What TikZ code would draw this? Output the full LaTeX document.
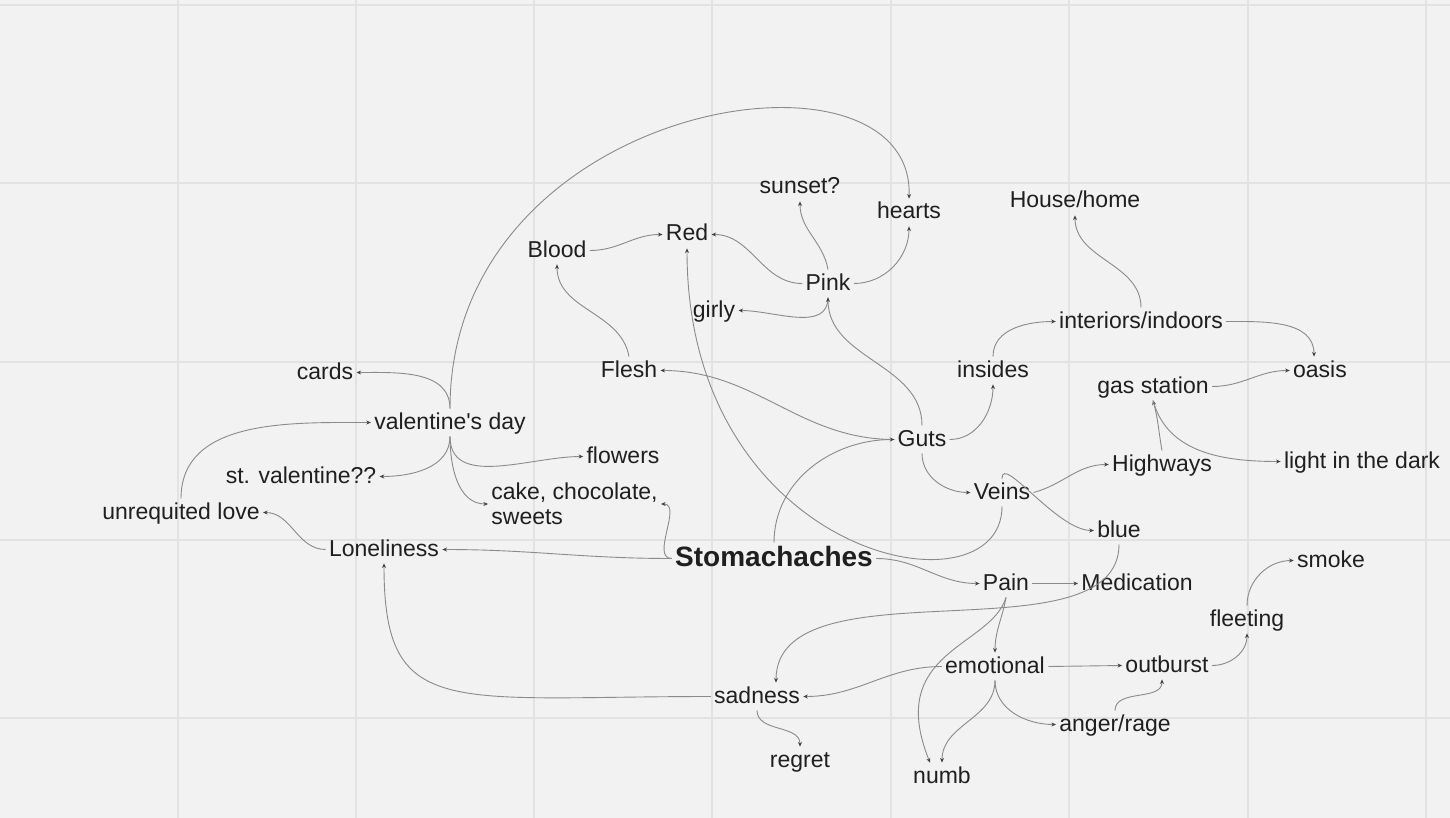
\documentclass[tikz,border=0pt]{standalone}
\usepackage{fontspec}
\setmainfont{Liberation Sans}
\usetikzlibrary{arrows.meta}

\definecolor{paper}{HTML}{F2F2F2}
\definecolor{gridline}{HTML}{E2E2E2}
\definecolor{ink}{HTML}{1F1F1F}
\definecolor{wire}{HTML}{8A8A8A}

\tikzset{
  word/.style={font=\fontsize{11.5}{12.5}\selectfont, text=ink, inner sep=1.5pt},
  term/.style={word, anchor=base, text height=8.5pt, text depth=2pt},
  link/.style={draw=wire, line width=0.45pt, -{Stealth[length=2.3pt,width=2pt,color=ink!85]}},
}

\begin{document}
\begin{tikzpicture}[x=0.5pt,y=0.5pt]
        % canvas and grid
        \fill[paper] (0,0) rectangle (1450,-818);
        \useasboundingbox (0,0) rectangle (1450,-818);
        \foreach \gx in {178,356,534,712,891,1069,1248,1426}
            \draw[gridline, line width=1pt] (\gx,0) -- (\gx,-818);
        \foreach \gy in {5,183,362,540,718}
            \draw[gridline, line width=1pt] (0,-\gy) -- (1450,-\gy);

        \node[term] (sunset) at (800,-194) {sunset?};
        \node[term] (hearts) at (909,-219) {hearts};
        \node[term] (house) at (1075,-208) {House/home};
        \node[term] (blood) at (557,-257) {Blood};
        \node[term] (red) at (687,-241) {Red};
        \node[term] (pink) at (828,-290) {Pink};
        \node[term] (girly) at (714,-317) {girly};
        \node[term] (interiors) at (1141,-328) {interiors/indoors};

        \node[term] (cards) at (325,-379) {cards};
        \node[term] (flesh) at (629,-377) {Flesh};
        \node[term] (insides) at (993,-377) {insides};
        \node[term] (gas) at (1153,-393) {gas station};
        \node[term] (oasis) at (1320,-377) {oasis};
        \node[term] (valday) at (450,-429) {valentine\textquotesingle s day};
        \node[term] (guts) at (922,-446) {Guts};
        \node[term] (flowers) at (623,-463) {flowers};
        \node[term] (stval) at (301,-483) {st. valentine??};
        \node[term] (highways) at (1162,-471) {Highways};
        \node[term] (light) at (1362,-468) {light in the dark};
        \node[word, align=left, anchor=west] (cake) at (488,-504) {cake, chocolate,\\sweets};
        \node[term] (veins) at (1002,-499) {Veins};
        \node[term] (unreq) at (181,-519) {unrequited love};
        \node[term] (blue) at (1119,-537) {blue};

        \node[term] (lonely) at (384,-556) {Loneliness};
        \node[term, font=\fontsize{14}{16}\selectfont\bfseries, text height=10pt, text depth=2.5pt] (stomach) at (774,-566) {Stomachaches};
        \node[term] (smoke) at (1331,-567) {smoke};
        \node[term] (pain) at (1006,-590) {Pain};
        \node[term] (meds) at (1137,-590) {Medication};
        \node[term] (fleeting) at (1247,-626) {fleeting};
        \node[term] (emotional) at (995,-673) {emotional};
        \node[term] (outburst) at (1167,-672) {outburst};
        \node[term] (sadness) at (757,-703) {sadness};
        \node[term] (anger) at (1115,-731) {anger/rage};
        \node[term] (regret) at (800,-767) {regret};
        \node[term] (numb) at (942,-783) {numb};

        % colours
        \draw[link] (blood.east) to[out=0,in=180] (red.west);
        \draw[link] (pink.west) to[out=180,in=0] (red.east);
        \draw[link] (pink.north) to[out=100,in=-90] (sunset.south);
        \draw[link] (pink.east) to[out=0,in=-90] (hearts.south);
        \draw[link] (pink.south) to[out=-90,in=0] (girly.east);
        \draw[link] (guts.north) to[out=90,in=-90] (pink.south);
        \draw[link] (flesh.north) to[out=100,in=-90] (blood.south);
        \draw[link] (guts.west) to[out=180,in=0] (flesh.east);
        \draw[link] (veins.south) .. controls +(0,-113) and +(0,-312) .. (red.south);

        % valentine's day
        \draw[link] (valday.north) .. controls +(0,310) and +(6,170) .. (hearts.north);
        \draw[link] (valday.north) to[out=90,in=0] (cards.east);
        \draw[link] (unreq.north) to[out=90,in=180] (valday.west);
        \draw[link] (valday.south) to[out=-90,in=0] (stval.east);
        \draw[link] (valday.south) to[out=-90,in=180] (flowers.west);
        \draw[link] (valday.south) to[out=-90,in=180] (cake.west);
        \draw[link] (lonely.west) to[out=180,in=0] (unreq.east);
        \draw[link] (stomach.west) to[out=180,in=0] (lonely.east);
        \draw[link] (stomach.west) to[out=180,in=0] (cake.east);

        % insides
        \draw[link] (stomach.north) to[out=90,in=180] (guts.west);
        \draw[link] (guts.east) to[out=0,in=-90] (insides.south);
        \draw[link] (insides.north) to[out=90,in=180] (interiors.west);
        \draw[link] (interiors.north) to[out=90,in=-90] (house.south);
        \draw[link] (interiors.east) to[out=0,in=90] ([xshift=-3pt]oasis.north);
        \draw[link] (gas.east) to[out=0,in=180] (oasis.west);
        \draw[link] (highways.north) to[out=100,in=-75] (gas.south);
        \draw[link] (gas.south) to[out=-75,in=180] (light.west);
        \draw[link] (guts.south) to[out=-90,in=180] (veins.west);
        \draw[link] (veins.east) to[out=15,in=180] (highways.west);
        \draw[link] (veins.north) .. controls +(0,25) and +(-37,0) .. (blue.west);
        \draw[link] (blue.south) .. controls +(0,-117) and +(0,123) .. ([xshift=9.5pt]sadness.north);

        % pain
        \draw[link] (stomach.east) to[out=0,in=180] (pain.west);
        \draw[link] (pain.east) -- (meds.west);
        \draw[link] (pain.south) to[out=-100,in=90] (emotional.north);
        \draw[link] (pain.south) .. controls +(-15,-50) and +(-45,112) .. ([xshift=-6pt]numb.north);
        \draw[link] (emotional.south) to[out=-90,in=90] (numb.north);
        \draw[link] (emotional.west) to[out=180,in=0] (sadness.east);
        \draw[link] (emotional.east) -- (outburst.west);
        \draw[link] (emotional.south) to[out=-90,in=180] (anger.west);
        \draw[link] (anger.north) to[out=90,in=-90] ([xshift=-2.5pt]outburst.south);
        \draw[link] (outburst.east) to[out=0,in=-90] (fleeting.south);
        \draw[link] (fleeting.north) to[out=90,in=180] (smoke.west);
        \draw[link] (sadness.south) to[out=-90,in=90] (regret.north);
        \draw[link] (sadness.west) .. controls +(-262,0) and +(0,-157) .. (lonely.south);

    \end{tikzpicture}
\end{document}
